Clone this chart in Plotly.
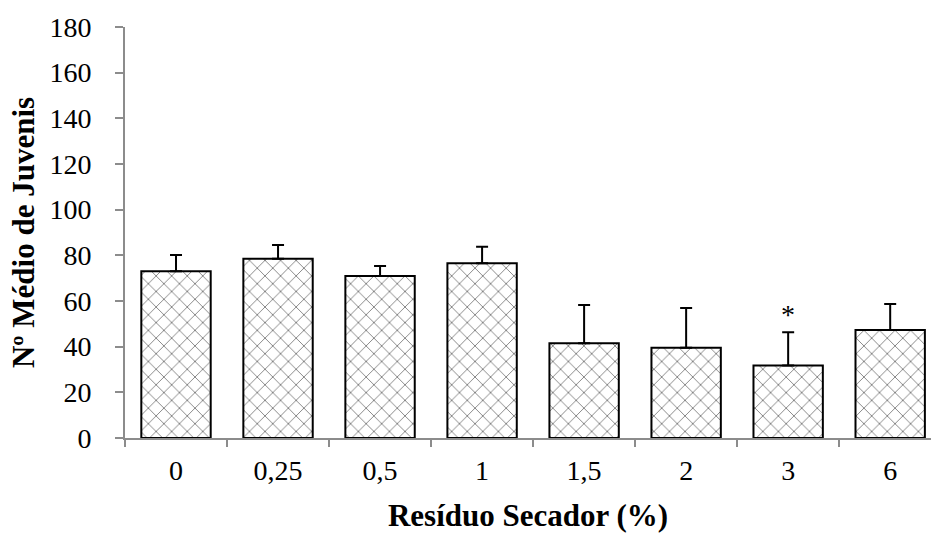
import plotly.graph_objects as go

# Mean number of juveniles per dryer-residue concentration
categories = ["0", "0,25", "0,5", "1", "1,5", "2", "3", "6"]
means = [73, 78.5, 71, 76.5, 41.5, 39.5, 31.7, 47.3]
errors = [7.2, 6.0, 4.3, 7.3, 16.8, 17.4, 14.6, 11.4]
significant = ["", "", "", "", "", "", "*", ""]
y_ticks = [0, 20, 40, 60, 80, 100, 120, 140, 160, 180]

serif = "Liberation Serif, Times New Roman, serif"
axis_grey = "#8c8c8c"

fig = go.Figure()
fig.add_trace(go.Bar(
    x=list(range(len(categories))),
    y=means,
    width=0.68,
    marker=dict(
        color="white",
        line=dict(color="black", width=2),
        pattern=dict(shape="x", size=11, solidity=0.16, fgcolor="black", bgcolor="white"),
    ),
    error_y=dict(
        type="data", symmetric=False, array=errors, arrayminus=[0] * len(errors),
        color="black", thickness=2, width=6,
    ),
    showlegend=False,
))

for i, mark in enumerate(significant):
    if mark:
        fig.add_annotation(
            x=i, y=means[i] + errors[i], text=mark, showarrow=False,
            yanchor="bottom", yshift=0,
            font=dict(family=serif, size=28, color="black"),
        )

fig.update_layout(
    width=931, height=538,
    margin=dict(l=125, r=0, t=27, b=100),
    paper_bgcolor="white", plot_bgcolor="white",
    bargap=0.32,
    font=dict(family=serif, color="black"),
)
fig.update_xaxes(
    range=[-0.5, 7.4],
    tickmode="array",
    tickvals=list(range(len(categories))),
    ticktext=categories,
    showline=True, linecolor=axis_grey, linewidth=2,
    ticks="", showgrid=False, zeroline=False,
    tickfont=dict(family=serif, size=28, color="black"),
    ticklabelstandoff=6,
    title=dict(text="<b>Resíduo Secador (%)</b>", font=dict(family=serif, size=31, color="black"), standoff=20),
)
# boundary tick marks between categories, drawn on an overlay axis
fig.update_layout(xaxis2=dict(
    overlaying="x", matches="x", side="bottom", anchor="y",
    tickmode="array", tickvals=[i + 0.5 for i in range(-1, len(categories))],
    ticks="outside", ticklen=8, tickwidth=2, tickcolor=axis_grey,
    showticklabels=False, showgrid=False, zeroline=False, showline=False,
))
fig.add_trace(go.Scatter(x=[0], y=[0], xaxis="x2", mode="markers", marker=dict(opacity=0), showlegend=False, hoverinfo="skip"))
fig.update_yaxes(
    range=[0, 180],
    tickmode="array", tickvals=y_ticks,
    showline=True, linecolor=axis_grey, linewidth=2,
    ticks="outside", ticklen=8, tickwidth=2, tickcolor=axis_grey,
    showgrid=False, zeroline=False,
    tickfont=dict(family=serif, size=28, color="black"),
    ticklabelstandoff=18,
    title=dict(text="<b>Nº Médio de Juvenis</b>", font=dict(family=serif, size=31, color="black"), standoff=6),
)

fig.write_html("out.html")
